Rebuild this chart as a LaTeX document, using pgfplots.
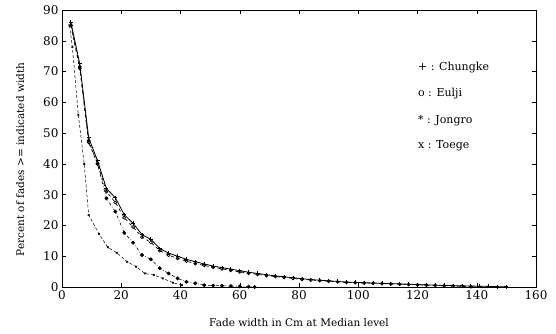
\documentclass[border=0pt]{standalone}
\usepackage{fontspec}
\setmainfont{DejaVu Serif}
\usepackage{pgfplots}
\pgfplotsset{compat=1.18}
\begin{document}
\begin{tikzpicture}
\path[use as bounding box] (-62pt,-47pt) rectangle (494pt,287pt);
\begin{axis}[
  at={(0,0)}, anchor=south west,
  scale only axis, width=474pt, height=277pt,
  xmin=0, xmax=160, ymin=0, ymax=90,
  xtick={0,20,...,160}, ytick={0,10,...,90},
  /pgf/number format/assume math mode=true,
  tick label style={font=\fontsize{12}{14}\selectfont},
  tick style={black, thin},
  axis line style={black, line width=0.7pt},
  xlabel={Fade width in Cm at Median level},
  ylabel={Percent of fades >= indicated width},
  label style={font=\fontsize{10.5}{12}\selectfont},
  xlabel style={at={(axis description cs:0.5,0)}, anchor=north, yshift=-28pt},
  ylabel style={at={(axis description cs:-0.072,0.46)}, anchor=south},
  clip=false,
]
% Chungke
\addplot[black, line width=0.8pt, mark=+, mark size=2pt, mark options={line width=0.8pt}] coordinates {
(3,86)(6,72.5)(9,48.5)(12,41)(15,32)(18,29)(21,23.5)(24,20.7)(27,17)(30,15.5)(33,12.5)(36,11)(39,10)(42,9)(45,8.2)(48,7.5)(51,6.8)(54,6.3)(57,5.8)(60,5.3)(63,4.8)(66,4.4)(69,4.0)(72,3.6)(75,3.3)(78,3.0)(81,2.7)(84,2.4)(87,2.2)(90,2.0)(93,1.8)(96,1.6)(99,1.5)(102,1.4)(105,1.3)(108,1.2)(111,1.1)(114,1.0)(117,0.9)(120,0.8)(123,0.7)(126,0.6)(129,0.5)(132,0.45)(135,0.4)(138,0.3)(141,0.25)(144,0.2)(147,0.1)(150,0.05)};
% Eulji
\addplot[black, line width=0.7pt, dashed, mark=o, mark size=1.5pt, mark options={solid, line width=0.7pt}] coordinates {
(3,85)(6,71)(9,47)(12,40)(15,31)(18,27.5)(21,22.5)(24,19.5)(27,16.2)(30,14.5)(33,11.8)(36,10.3)(39,9.3)(42,8.4)(45,7.6)(48,7.0)(51,6.4)(54,5.9)(57,5.4)(60,4.9)(63,4.5)(66,4.1)(69,3.7)(72,3.4)(75,3.1)(78,2.8)(81,2.5)(84,2.3)(87,2.1)(90,1.9)(93,1.7)(96,1.5)(99,1.4)(102,1.3)(105,1.2)(108,1.1)(111,1.0)(114,0.9)(117,0.8)(120,0.7)(123,0.6)(126,0.5)(129,0.4)(132,0.3)(135,0.2)(138,0.1)};
% Jongro
\addplot[black, line width=0.6pt, dash dot, mark=*, mark size=1.6pt, mark options={solid}] coordinates {
(3,85)(6,71.5)(9,47.5)(12,40)(15,28.8)(18,24.5)(21,17.6)(24,14.4)(27,10.4)(30,9.0)(33,6.1)(36,4.4)(39,2.8)(42,1.7)(45,1.2)(48,0.6)(51,0.5)(54,0.4)(57,0.3)(60,0.2)(63,0.1)(65,0)};
% Toege
\addplot[black, line width=0.5pt, densely dashed, mark=x, mark size=1.3pt, mark options={solid, line width=0.6pt}] coordinates {
(2.5,85)(3.5,78)(5.5,56)(7.5,40)(9,23.4)(12.5,17.2)(15.5,12.9)(18.5,11.1)(22,8.2)(25,6.6)(28,4.4)(31,3.9)(34,2.8)(37.5,1.4)(40.5,0.6)};
\node[anchor=west, font=\fontsize{11}{13}\selectfont] at (axis cs:119,71.4) {+ : Chungke};
\node[anchor=west, font=\fontsize{11}{13}\selectfont] at (axis cs:119,62.7) {o : Eulji};
\node[anchor=west, font=\fontsize{11}{13}\selectfont] at (axis cs:119,54.2) {* : Jongro};
\node[anchor=west, font=\fontsize{11}{13}\selectfont] at (axis cs:119,45.8) {x : Toege};
\end{axis}
\end{tikzpicture}
\end{document}
